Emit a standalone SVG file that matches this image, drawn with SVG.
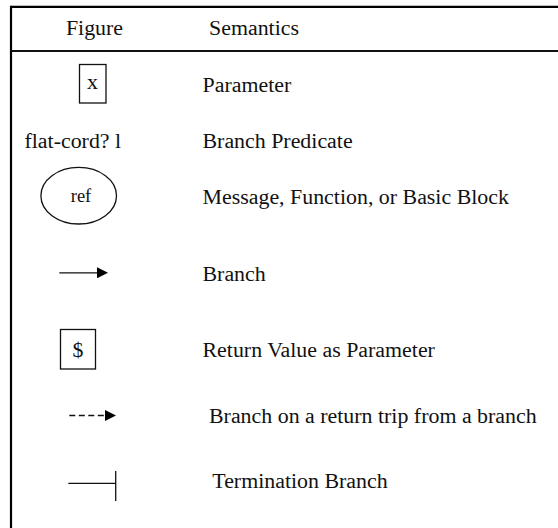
<svg xmlns="http://www.w3.org/2000/svg" width="558" height="528" viewBox="0 0 558 528">
<style>
text{font-family:"Liberation Serif","Times New Roman",serif;fill:#111;font-size:21.9px}
.c{text-anchor:middle}
.frame{stroke:#000;stroke-width:2.2;fill:none}
.sh{stroke:#111;stroke-width:1.3;fill:none}
</style>
<defs>
<marker id="ah" markerWidth="11" markerHeight="11" refX="0" refY="5.5" orient="auto" markerUnits="userSpaceOnUse">
<path d="M0,0 L11,5.5 L0,11 Z" fill="#000"/>
</marker>
</defs>
<rect width="558" height="528" fill="#fff"/>
<g id="frame">
<line class="frame" x1="11" y1="6.8" x2="558" y2="6.8"/>
<line class="frame" x1="11" y1="5.7" x2="11" y2="528"/>
<line x1="11" y1="51" x2="558" y2="51" stroke="#111" stroke-width="1.8"/>
</g>
<g id="header">
<text class="c" x="94.5" y="35">Figure</text>
<text x="209" y="35">Semantics</text>
</g>
<g id="param">
<rect class="sh" x="79.5" y="64.5" width="26.5" height="38.5"/>
<text class="c" x="92.5" y="89">x</text>
</g>
<text x="202.5" y="91.5">Parameter</text>
<g id="predicate">
<text x="24.5" y="147.5">flat-cord? l</text>
</g>
<text x="202.5" y="147.5">Branch Predicate</text>
<g id="ref">
<ellipse class="sh" cx="78.7" cy="195.7" rx="37.8" ry="28.3"/>
<text class="c" x="81" y="201.5" style="font-size:18.5px">ref</text>
</g>
<text x="202.5" y="204">Message, Function, or Basic Block</text>
<g id="connectors">
<line class="sh" x1="59.3" y1="272.8" x2="97" y2="272.8" marker-end="url(#ah)"/>
<line class="sh" x1="69.3" y1="415.5" x2="105" y2="415.5" stroke-dasharray="6,3.5" marker-end="url(#ah)"/>
<line class="sh" x1="68.3" y1="483.3" x2="115.7" y2="483.3"/>
<line class="sh" x1="115.7" y1="471" x2="115.7" y2="501"/>
</g>
<text x="202.5" y="280.5">Branch</text>
<g id="ret">
<rect class="sh" x="60.5" y="329.5" width="35" height="39.5"/>
<text class="c" x="78" y="356.5">$</text>
</g>
<text x="202.5" y="357">Return Value as Parameter</text>
<text x="209" y="423">Branch on a return trip from a branch</text>
<text x="212.3" y="488.3">Termination Branch</text>
</svg>
